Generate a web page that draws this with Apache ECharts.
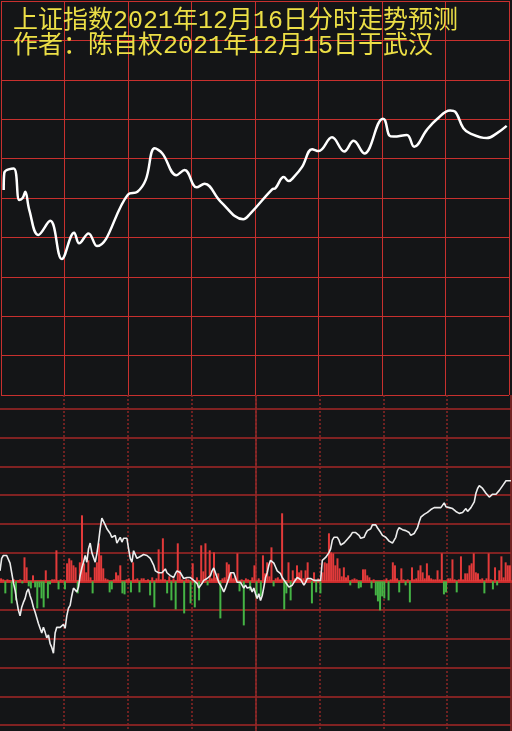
<!DOCTYPE html>
<html>
<head>
<meta charset="utf-8">
<script src="https://cdn.jsdelivr.net/npm/echarts@6/dist/echarts.min.js"></script>
<style>
html,body{margin:0;padding:0;background:#141517;}
#chart{width:512px;height:731px;}
</style>
</head>
<body>
<div id="chart"></div>
<script>
// ---- title text ----
var titleLine1 = '上证指数2021年12月16日分时走势预测';
var titleLine2 = '作者：陈自权2021年12月15日于武汉';

// ---- top panel: predicted intraday trend (minute, level in grid units) ----
var topTime = [1.27,1.56,5.99,8.63,10.23,11.46,13.34,17.59,23.25,28.76,34.56,36.92,41.35,45.26,60.02,64.46,68.37,72.61,76.24,82.84,86.76,92.42,96.19,103.73,114.43,117.88,128.11,129.67,133.58,135.94,138.30,142.25,146.97,150.08,156.40,162.20,166.58,171.63,180.45,181.53,183.56,185.44,191.76,195.20,201.19,205.91,212.18,214.54,218.45,221.61,229.48,234.19,238.90];
var topValue = [5.20,5.64,5.75,4.95,5.00,5.16,4.70,4.06,4.42,3.45,4.12,3.85,4.10,3.78,5.09,5.16,5.46,6.26,6.13,5.58,5.71,5.27,5.36,4.91,4.46,4.61,5.22,5.25,5.53,5.43,5.53,5.79,6.24,6.19,6.54,6.18,6.45,6.13,7.01,6.96,6.58,6.56,6.60,6.30,6.73,7.00,7.22,7.19,6.77,6.64,6.52,6.64,6.83];

// ---- bottom panel: white line (evenly sampled ticks) ----
var lowerLine = [
11,24,27,29,27,25,19,9,-1,-9,
-20,-30,-36,-27,-22,-18,-11,-8,-15,-20,
-27,-32,-38,-44,-49,-54,-48,-53,-59,-56,
-65,-69,-75,-54,-48,-48,-48,-46,-45,-49,
-36,-28,-25,-15,-7,-9,-11,-6,6,14,
20,27,20,34,40,30,25,20,29,41,
55,66,67,59,55,56,50,46,45,48,
40,43,46,41,45,43,45,34,24,20,
32,30,24,25,26,27,28,28,27,26,
24,22,17,11,9,9,7,9,11,13,
9,8,6,4,4,8,11,13,9,7,
3,1,4,6,4,3,1,3,-2,-7,
-9,-2,1,1,3,1,6,11,14,9,
4,-1,-4,-7,-11,-7,-2,3,9,11,
9,4,-1,-2,-1,-2,-7,-4,-7,-6,
-6,-11,-7,-13,-18,-13,-20,-15,-6,4,
9,17,22,24,19,15,11,9,8,4,
3,-1,-2,-6,-7,-4,-1,1,4,3,
2,1,-4,-1,3,4,3,1,1,3,
1,-1,1,22,24,25,27,30,34,43,
46,47,46,43,38,36,40,41,44,45,
48,51,53,51,50,48,45,43,46,50,
53,53,55,59,61,59,56,54,51,48,
46,46,44,42,41,40,40,46,53,56,
54,54,54,53,55,51,48,46,50,53,
56,62,67,69,70,71,72,74,75,76,
77,76,77,76,77,79,82,78,77,77,
78,76,75,73,72,71,69,72,73,76,
73,75,77,78,83,92,97,100,98,97,
95,92,90,88,90,91,91,91,92,95,
97,100,102,105,105,105,105
];

// ---- bottom panel: red / green bars, one per minute ----
var lowerBars = [
3,2,-12,2,1,-22,2,-19,1,2,
-2,24,14,-5,-7,6,-6,-27,-6,-17,
-26,11,-17,-3,2,2,31,-8,2,1,
-8,18,23,21,16,14,-12,19,66,18,
9,21,4,-12,14,19,38,26,13,3,
2,-11,-8,2,9,6,16,-12,-13,2,
3,-11,19,2,3,-11,3,3,1,2,
-14,4,-26,3,32,2,43,2,-12,5,
-19,3,-28,38,11,2,-32,3,2,-22,
18,-26,4,-19,36,10,38,-4,31,3,
29,4,8,-37,3,4,19,17,9,3,
5,28,-10,2,-44,3,2,-9,4,16,
-17,3,-15,26,8,19,5,34,-5,3,
4,2,68,-28,-12,19,-19,11,3,16,
9,11,3,11,19,2,-22,9,-11,3,
-12,9,19,18,48,29,28,16,23,13,
5,14,4,6,-4,2,3,2,-7,-6,
12,12,6,4,-7,2,-14,-20,-29,-15,
-17,3,-19,2,19,16,3,-11,13,2,
-4,2,-21,14,2,3,11,16,9,3,
18,6,3,2,2,11,2,28,-13,-11,
3,3,22,2,-11,2,25,2,8,8,
16,18,28,9,8,2,3,-12,3,28,
2,-8,14,-4,11,25,4,19,16,16
];

var topData = topTime.map(function (t, i) { return [t, topValue[i]]; });
var lineCats = lowerLine.map(function (v, i) { return i; });
var barCats = lowerBars.map(function (v, i) { return i; });
var barData = lowerBars.map(function (v) {
  return { value: v, itemStyle: { color: v >= 0 ? '#e23a3a' : '#45b445' } };
});

var hidden = { show: false };
var chart = echarts.init(document.getElementById('chart'), null, { renderer: 'canvas' });
chart.setOption({
  animation: false,
  backgroundColor: '#141517',
  title: {
    text: titleLine1 + '\n' + titleLine2,
    left: 13, top: 9, padding: 0,
    textStyle: {
      color: '#ecdf46', fontSize: 25, fontWeight: 'normal', lineHeight: 25,
      fontFamily: '"Liberation Mono", "Noto Sans CJK SC", monospace'
    }
  },
  grid: [
    { left: 1, top: 1, width: 508, height: 394 },
    { left: 0, top: 395, width: 511, height: 336 },
    { left: 0, top: 409, width: 511, height: 316 }
  ],
  xAxis: [
    { gridIndex: 0, type: 'value', min: 0, max: 240, interval: 30,
      axisLine: hidden, axisTick: hidden, axisLabel: hidden,
      splitLine: { show: true, lineStyle: { color: '#c8302e', width: 1 } } },
    { gridIndex: 1, type: 'value', min: 0, max: 240, interval: 30,
      axisLine: hidden, axisTick: hidden, axisLabel: hidden,
      splitLine: { show: true, showMinLine: false, showMaxLine: false,
        lineStyle: { color: '#8c2626', width: 1.5, type: [2, 2] } } },
    { gridIndex: 1, type: 'value', min: 0, max: 240, interval: 120, position: 'top',
      axisLine: hidden, axisTick: hidden, axisLabel: hidden,
      splitLine: { show: true, showMinLine: false,
        lineStyle: { color: '#922828', width: 1.5 } } },
    { gridIndex: 2, type: 'category', data: barCats, boundaryGap: true,
      axisTick: hidden, axisLabel: hidden,
      axisLine: { show: true, onZero: true, onZeroAxisIndex: 3,
        lineStyle: { color: '#c62c2c', width: 3 } },
      splitLine: hidden },
    { gridIndex: 2, type: 'category', data: lineCats, boundaryGap: false, position: 'top',
      axisLine: hidden, axisTick: hidden, axisLabel: hidden, splitLine: hidden }
  ],
  yAxis: [
    { gridIndex: 0, type: 'value', min: 0, max: 10, interval: 1,
      axisLine: hidden, axisTick: hidden, axisLabel: hidden,
      splitLine: { show: true, lineStyle: { color: '#c8302e', width: 1 } } },
    { gridIndex: 1, type: 'value', min: 0, max: 1,
      axisLine: hidden, axisTick: hidden, axisLabel: hidden, splitLine: hidden },
    { gridIndex: 2, type: 'value', min: -150, max: 180, interval: 30,
      axisLine: hidden, axisTick: hidden, axisLabel: hidden,
      splitLine: { show: true, lineStyle: { color: '#a42727', width: 1.5 } } },
    { gridIndex: 2, type: 'value', min: -143.5, max: 172.2, position: 'right',
      axisLine: hidden, axisTick: hidden, axisLabel: hidden, splitLine: hidden }
  ],
  series: [
    { type: 'line', xAxisIndex: 0, yAxisIndex: 0, data: topData,
      smooth: 0.4, showSymbol: false, z: 5,
      lineStyle: { color: '#ffffff', width: 2.5 } },
    { type: 'bar', xAxisIndex: 3, yAxisIndex: 3, data: barData,
      barWidth: 2, z: 3 },
    { type: 'line', xAxisIndex: 4, yAxisIndex: 2, data: lowerLine,
      showSymbol: false, z: 6,
      lineStyle: { color: '#ececec', width: 1.6 } }
  ]
});
</script>
</body>
</html>
